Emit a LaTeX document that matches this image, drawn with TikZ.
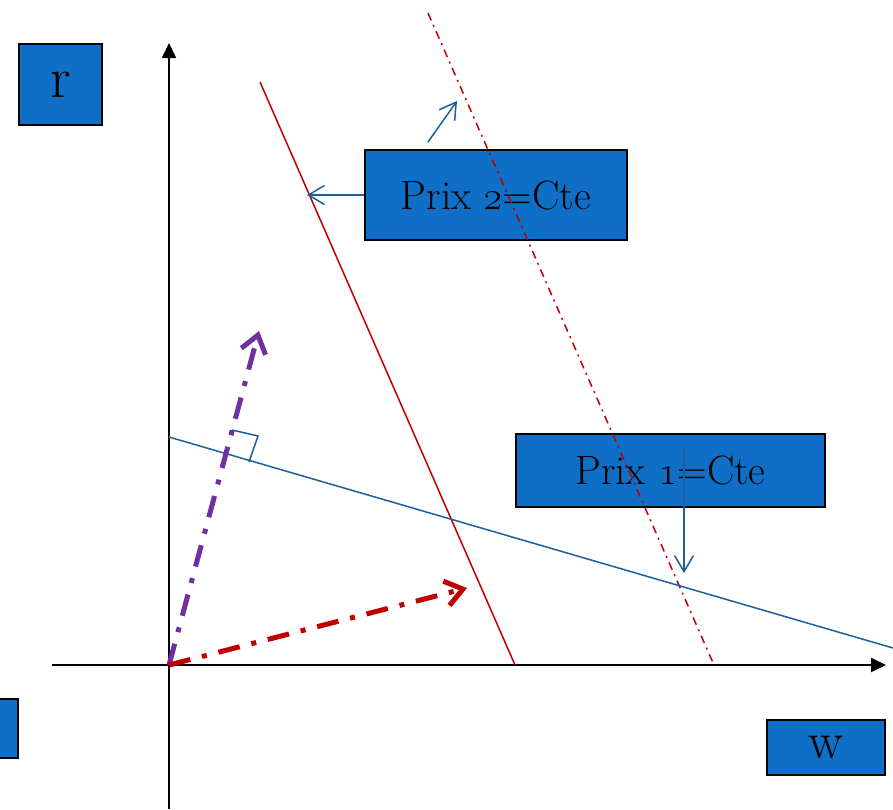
\RequirePackage{fix-cm}
\documentclass[tikz,border=0pt]{standalone}
\usetikzlibrary{arrows.meta}

\definecolor{boxblue}{HTML}{0F6FC6}
\definecolor{lineblue}{HTML}{1C5F9F}
\definecolor{darkred}{HTML}{C00000}
\definecolor{vecviolet}{HTML}{7030A0}

\begin{document}
\begin{tikzpicture}[
    x=1pt, y=-1pt,
    labelbox/.style={rectangle, draw=black, line width=2pt, fill=boxblue, inner sep=0pt, text=black},
    axis/.style={line width=1.8pt, -{Triangle[length=15pt,width=14pt]}},
    pricesolid/.style={darkred, line width=1.5pt},
    pricedash/.style={darkred, line width=1.5pt, dash pattern=on 8pt off 5pt on 2pt off 5pt},
    priceone/.style={lineblue, line width=1.5pt},
    pointer/.style={lineblue, line width=1.5pt, -{Straight Barb[length=16pt,width=19pt]}},
    vec/.style={line width=5pt, line join=round, dash pattern=on 22pt off 12pt on 5pt off 12pt, -{Straight Barb[length=17pt,width=25pt]}},
]
\useasboundingbox[fill=white] (0,0) rectangle (893,809);

% Axis labels and price boxes
\node[labelbox, minimum width=83pt, minimum height=81pt, font=\fontsize{58}{62}\selectfont] (r) at (60.5,84.5) {r};
\node[labelbox, minimum width=80pt, minimum height=59pt] (aside) at (-22,728.5) {};
\node[labelbox, minimum width=118pt, minimum height=55pt, font=\fontsize{52}{56}\selectfont] (w) at (826,747.5) {w};
\node[labelbox, minimum width=262pt, minimum height=90pt, font=\fontsize{41}{45}\selectfont] (prix2) at (496,195) {Prix \oldstylenums{2}=Cte};
\node[labelbox, minimum width=309pt, minimum height=73pt, font=\fontsize{41}{45}\selectfont] (prix1) at (670.5,470.5) {Prix \oldstylenums{1}=Cte};

% Axes
\coordinate (O) at (169,665);
\coordinate (ybot) at (169,809);
\coordinate (ytop) at (169,43);
\coordinate (xleft) at (52,665);
\coordinate (xright) at (886,665);
\draw[axis] (ybot) -- (ytop);
\draw[axis] (xleft) -- (xright);

% Iso-price lines
\coordinate (p2a) at (260,82);
\coordinate (p2b) at (515,665);
\coordinate (p2c) at (428,13);
\coordinate (p2d) at (714,665);
\coordinate (p1a) at (169,437);
\coordinate (p1b) at (893,648);
\draw[pricesolid] (p2a) -- (p2b);
\draw[pricedash] (p2c) -- (p2d);
\draw[priceone] (p1a) -- (p1b);

% Pointers from the boxes
\coordinate (p2hit) at (307,195);
\coordinate (shiftfrom) at (428,142);
\coordinate (shiftto) at (457,101);
\coordinate (p1from) at (684,448);
\coordinate (p1hit) at (684,573);
\draw[pointer] (prix2.west) -- (p2hit);
\draw[pointer] (shiftfrom) -- (shiftto);
\draw[pointer] (p1from) -- (p1hit);

% Gradient vectors
\coordinate (gradone) at (259,331);
\coordinate (gradtwo) at (467,588);
\draw[vec, vecviolet] (O) -- (gradone);
\draw[vec, darkred] (O) -- (gradtwo);

% Right angle mark
\coordinate (ra1) at (232,430);
\coordinate (ra2) at (258,436);
\coordinate (ra3) at (249,462);
\draw[lineblue, line width=1.5pt] (ra1) -- (ra2) -- (ra3);

\end{tikzpicture}
\end{document}
